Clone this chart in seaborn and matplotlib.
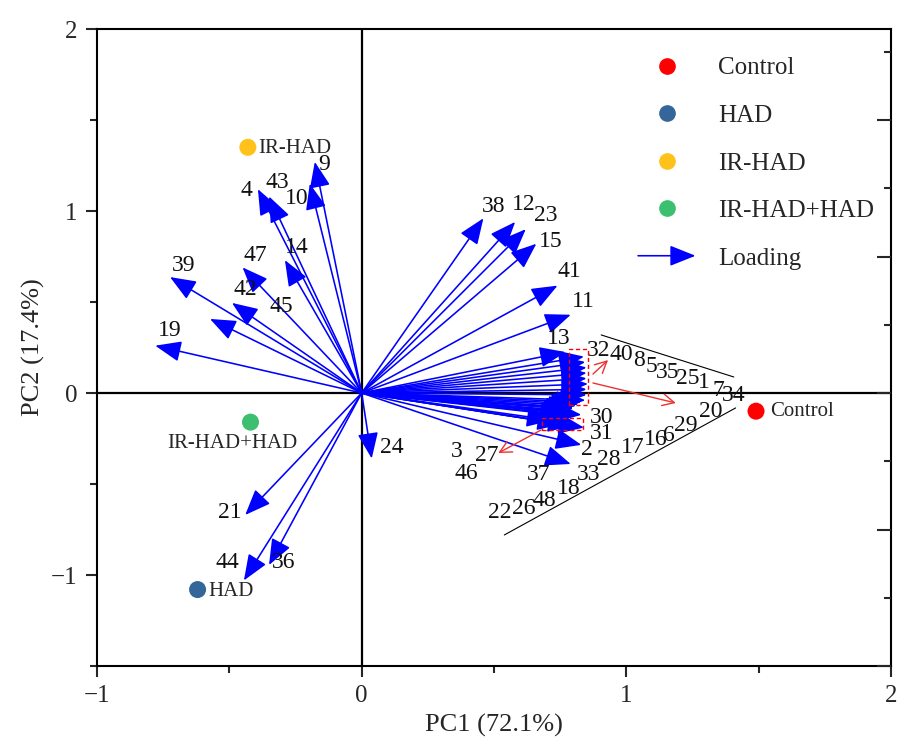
import numpy as np
import pandas as pd
import matplotlib
matplotlib.use('Agg')
import matplotlib.pyplot as plt
import seaborn as sns
from matplotlib.patches import FancyArrowPatch, Rectangle
from matplotlib.lines import Line2D
from matplotlib.legend_handler import HandlerBase

# ---------------- data ----------------
groups = ['Control', 'HAD', 'IR-HAD', 'IR-HAD+HAD']
score_pc1 = [1.49, -0.62, -0.43, -0.42]
score_pc2 = [-0.10, -1.08, 1.35, -0.16]
group_colors = ['#FF0000', '#346699', '#FFC21A', '#3CBF6E']

var_ids = list(range(1, 49))
load_pc1 = [0.85, 0.83, 0.72, -0.392, 0.85, 0.81, 0.85, 0.85, -0.177, -0.196,
            0.79, 0.58, 0.77, -0.29, 0.66, 0.80, 0.80, 0.78, -0.78, 0.83,
            -0.44, 0.77, 0.62, 0.038, 0.855, 0.77, 0.76, 0.79, 0.82, 0.83,
            0.84, 0.84, 0.79, 0.845, 0.85, -0.35, 0.79, 0.46, -0.724, 0.845,
            0.74, -0.49, -0.35, -0.445, -0.573, 0.80, -0.45, 0.78]
load_pc2 = [0.02, -0.285, -0.15, 1.12, 0.11, -0.07, -0.01, 0.14, 1.27, 1.15,
            0.43, 0.94, 0.225, 0.73, 0.82, -0.08, -0.085, -0.105, 0.26, -0.05,
            -0.67, -0.125, 0.90, -0.36, 0.05, -0.12, -0.17, -0.09, -0.06, -0.12,
            -0.19, 0.20, -0.10, -0.04, 0.08, -0.945, -0.39, 0.96, 0.637, 0.17,
            0.59, 0.495, 1.08, -1.03, 0.407, -0.18, 0.69, -0.11]

# ---------------- layout (label placement) ----------------
label_pos = {
    9: (-0.143, 1.253), 10: (-0.245, 1.071), 4: (-0.437, 1.115), 43: (-0.317, 1.154),
    14: (-0.245, 0.797), 47: (-0.403, 0.753), 42: (-0.441, 0.566), 45: (-0.302, 0.473),
    39: (-0.671, 0.703), 19: (-0.727, 0.346), 21: (-0.497, -0.659), 44: (-0.509, -0.929),
    36: (-0.294, -0.934), 24: (0.113, -0.297),
    38: (0.498, 1.027), 12: (0.611, 1.033), 23: (0.697, 0.973), 15: (0.716, 0.83),
    41: (0.784, 0.665), 11: (0.837, 0.505), 13: (0.746, 0.302),
    30: (0.905, -0.132), 31: (0.905, -0.22), 2: (0.852, -0.313), 37: (0.667, -0.45),
    27: (0.471, -0.341), 3: (0.358, -0.324), 46: (0.396, -0.44),
    32: (0.897, 0.236), 40: (0.98, 0.209), 8: (1.048, 0.181), 5: (1.093, 0.143),
    35: (1.157, 0.11), 25: (1.233, 0.082), 1: (1.293, 0.055), 7: (1.346, 0.016),
    34: (1.406, -0.011),
    22: (0.52, -0.654), 26: (0.614, -0.632), 48: (0.69, -0.588), 18: (0.784, -0.522),
    33: (0.859, -0.45), 28: (0.935, -0.368), 17: (1.025, -0.302), 16: (1.112, -0.258),
    6: (1.161, -0.231), 29: (1.225, -0.176), 20: (1.319, -0.104),
}
group_label_pos = {'Control': (1.545, -0.104, 'left'), 'HAD': (-0.578, -1.088, 'left'),
                   'IR-HAD': (-0.389, 1.346, 'left'), 'IR-HAD+HAD': (-0.49, -0.275, 'center')}

scores = pd.DataFrame({'PC1': score_pc1, 'PC2': score_pc2, 'Group': groups})
loads = pd.DataFrame({'id': var_ids, 'PC1': load_pc1, 'PC2': load_pc2})

sns.set_theme(style='white')
plt.rcParams['font.family'] = ['Liberation Serif', 'DejaVu Serif']
plt.rcParams['mathtext.fontset'] = 'stix'

fig = plt.figure(figsize=(8.99, 7.42), dpi=100)
ax = fig.add_axes([97/899, 1-666/742, (891-97)/899, (666-29)/742])
ax.set_xlim(-1, 2)
ax.set_ylim(-1.5, 2)

ax.axhline(0, color='black', lw=1.6, zorder=1)
ax.axvline(0, color='black', lw=1.6, zorder=1)

ARROW = '-|>,head_length=0.8,head_width=0.32'

# loading arrows
for _, r in loads.iterrows():
    ax.annotate('', xy=(r.PC1, r.PC2), xytext=(0, 0),
                arrowprops=dict(arrowstyle=ARROW, mutation_scale=20, color='#0000FF', lw=1.15,
                                shrinkA=0, shrinkB=0), zorder=3)
    lx, ly = label_pos[int(r.id)]
    ax.text(lx, ly, str(int(r.id)), fontsize=17, ha='center', va='center', color='#111111', zorder=6)

# scores via seaborn
sns.scatterplot(data=scores, x='PC1', y='PC2', hue='Group', palette=dict(zip(groups, group_colors)),
                s=150, edgecolor='none', legend=False, ax=ax, zorder=5)
for g in groups:
    gx, gy, ha = group_label_pos[g]
    ax.text(gx, gy, g, fontsize=15, ha=ha, va='center', zorder=6)

# annotation wedge lines, dashed boxes and red arrows
ax.plot([0.905, 1.406], [0.319, 0.088], color='black', lw=0.8, zorder=2)
ax.plot([0.539, 1.413], [-0.78, -0.082], color='black', lw=0.8, zorder=2)
ax.add_patch(Rectangle((0.784, -0.066), 0.072, 0.308, fill=False, ec='red', lw=1.0,
                       ls=(0, (3, 2)), zorder=7))
ax.add_patch(Rectangle((0.682, -0.203), 0.155, 0.066, fill=False, ec='red', lw=1.0,
                       ls=(0, (3, 2)), zorder=7))
for (x0, y0, x1, y1) in [(0.874, 0.104, 0.931, 0.181), (0.874, 0.055, 1.187, -0.055),
                         (0.678, -0.203, 0.516, -0.33)]:
    ax.annotate('', xy=(x1, y1), xytext=(x0, y0),
                arrowprops=dict(arrowstyle='->,head_length=0.6,head_width=0.3', mutation_scale=14,
                                color='#F03030', lw=1.0, shrinkA=0, shrinkB=0), zorder=7)

# axes styling
ax.set_xlabel('PC1 (72.1%)', fontsize=19, labelpad=5)
ax.set_ylabel('PC2 (17.4%)', fontsize=19, labelpad=4)
ax.set_xticks([-1, 0, 1, 2])
ax.set_xticks([-0.5, 0.5, 1.5], minor=True)
ax.set_yticks([-1, 0, 1, 2])
ax.set_yticks([-1.5, -0.5, 0.5, 1.5], minor=True)
ax.tick_params(which='major', direction='out', length=8, width=1.5, labelsize=18,
               bottom=True, left=True, top=False, right=False, pad=6)
ax.tick_params(which='minor', direction='out', length=5, width=1.5,
               bottom=True, left=True, top=False, right=False)
for sp in ax.spines.values():
    sp.set_color('black')
    sp.set_linewidth(1.5)
ax.grid(False)

ax2 = ax.twinx()
ax2.set_ylim(-1.5, 2)
ax2.set_yticks([-1.5, -0.75, 0, 0.75, 1.5])
ax2.set_yticks([-1.125, -0.375, 0.375, 1.125, 1.875], minor=True)
ax2.tick_params(which='major', direction='in', length=10, width=1.5, labelright=False)
ax2.tick_params(which='minor', direction='in', length=5, width=1.5)
for sp in ax2.spines.values():
    sp.set_visible(False)
ax2.grid(False)

# legend
class ArrowProxy:
    pass

class ArrowHandler(HandlerBase):
    def create_artists(self, legend, orig_handle, xdescent, ydescent, width, height, fontsize, trans):
        y = height / 2 - ydescent
        a = FancyArrowPatch((-xdescent, y), (width - xdescent, y),
                            arrowstyle=ARROW, mutation_scale=20,
                            color='#0000FF', lw=1.15, shrinkA=0, shrinkB=0, transform=trans)
        return [a]

handles = [Line2D([], [], marker='o', ls='', color=c, markersize=11) for c in group_colors]
handles.append(ArrowProxy())
labels = groups + ['Loading']
ax.legend(handles, labels, handler_map={ArrowProxy: ArrowHandler()}, loc='upper left',
          bbox_to_anchor=(638/899, 1-57/742), bbox_transform=fig.transFigure, frameon=False,
          fontsize=18, handlelength=2.3, handletextpad=0.9, labelspacing=1.0,
          borderaxespad=0, borderpad=0)

fig.savefig('out.png', dpi=100)
